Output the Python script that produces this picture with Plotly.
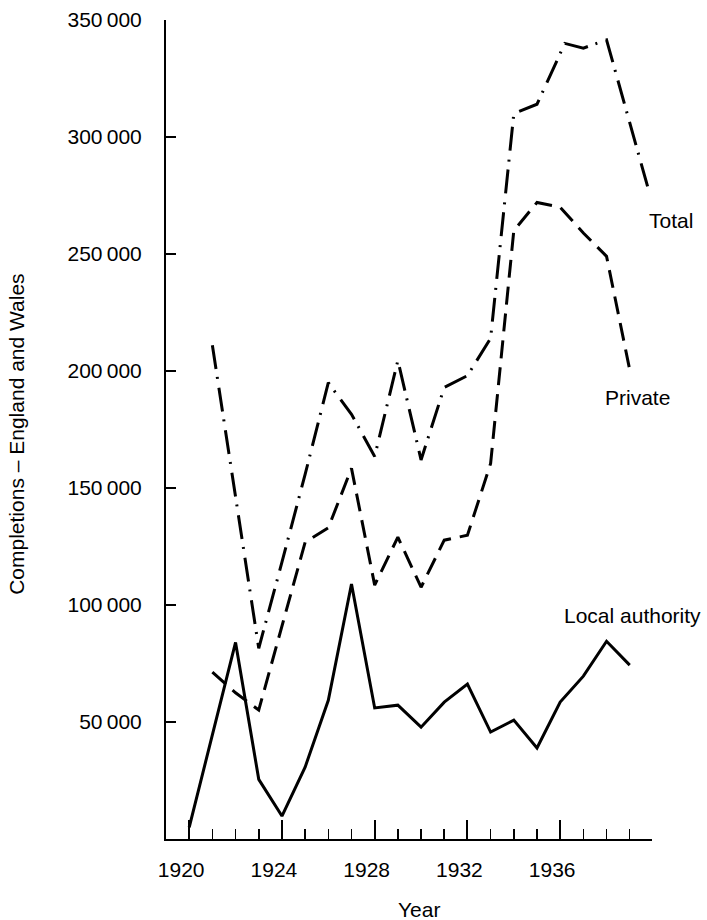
import plotly.graph_objects as go

# ---- data ----
years = list(range(1920, 1940))
local_authority = [5000, 45000, 84000, 25500, 9800, 30700, 59300, 109000, 56000, 57200,
                   47800, 58500, 66200, 45700, 50800, 38900, 58500, 69600, 84500, 74300]

private_years = list(range(1921, 1940))
private = [71300, 62500, 55100, 91000, 126800, 133000, 158400, 108500, 129000, 107600,
           127700, 129800, 160500, 260000, 272000, 270000, 259000, 249000, 200500]

total_years = [1921, 1922, 1923, 1924, 1925, 1926, 1927, 1928, 1929, 1930, 1931, 1932,
               1933, 1934, 1935, 1936.2, 1937, 1938, 1939.85]
total = [211000, 147000, 81500, 118300, 155800, 195000, 181500, 163500, 204500, 162000,
         193000, 198000, 214000, 310000, 314000, 340000, 338000, 341500, 276000]

y_tickvals = [50000, 100000, 150000, 200000, 250000, 300000, 350000]
y_ticktext = ["50\u2009000", "100\u2009000", "150\u2009000", "200\u2009000",
              "250\u2009000", "300\u2009000", "350\u2009000"]
x_tickvals = [1920, 1924, 1928, 1932, 1936]
x_ticktext = ["1920", "1924", "1928", "1932", "1936"]

series_labels = ["Total", "Private", "Local authority"]
label_x_paper = [1.039, 0.97, 0.959]
label_y = [264500, 188500, 95700]

FONT = "Liberation Sans, Arial, Helvetica, sans-serif"
FS = 21

fig = go.Figure()
fig.add_trace(go.Scatter(x=years, y=local_authority, mode="lines",
                         line=dict(color="black", width=3), name="Local authority"))
fig.add_trace(go.Scatter(x=private_years, y=private, mode="lines",
                         line=dict(color="black", width=3, dash="18px,9px"), name="Private"))
fig.add_trace(go.Scatter(x=total_years, y=total, mode="lines",
                         line=dict(color="black", width=3, dash="24px,8px,2px,9px"), name="Total"))

for t, lx, ly in zip(series_labels, label_x_paper, label_y):
    fig.add_annotation(xref="paper", yref="y", x=lx, y=ly, text=t, showarrow=False,
                       xanchor="center", yanchor="middle",
                       font=dict(family=FONT, size=FS, color="black"))

fig.add_annotation(xref="paper", yref="paper", x=0.52, y=-0.0855, text="Year", showarrow=False,
                   xanchor="center", yanchor="middle", font=dict(family=FONT, size=FS, color="black"))
fig.add_annotation(xref="paper", yref="paper", x=-0.309, y=0.4945,
                   text="Completions \u2013 England and Wales", showarrow=False, textangle=-90,
                   xanchor="center", yanchor="middle", font=dict(family=FONT, size=FS, color="black"))

fig.update_layout(
    width=707, height=920,
    margin=dict(l=166, r=55, t=20, b=81, autoexpand=False),
    paper_bgcolor="white", plot_bgcolor="white",
    showlegend=False,
    font=dict(family=FONT, size=FS, color="black"),
)
fig.update_xaxes(
    range=[1919, 1939.96], showgrid=False, zeroline=False,
    showline=True, linecolor="black", linewidth=2,
    tickmode="array", tickvals=x_tickvals, ticktext=x_ticktext,
    ticks="inside", ticklen=19, tickwidth=2, tickcolor="black",
    ticklabelstandoff=11, ticklabelshift=-8,
    minor=dict(ticks="inside", ticklen=10, tickwidth=1.5, tickcolor="black", dtick=1, tick0=1920),
    tickfont=dict(family=FONT, size=FS, color="black"),
)
fig.update_yaxes(
    range=[0, 350000], showgrid=False, zeroline=False,
    showline=True, linecolor="black", linewidth=2,
    tickmode="array", tickvals=y_tickvals, ticktext=y_ticktext,
    ticks="inside", ticklen=10, tickwidth=1.5, tickcolor="black",
    ticklabelstandoff=18,
    tickfont=dict(family=FONT, size=FS, color="black"),
)

fig.write_html("out.html", config={"displayModeBar": False, "staticPlot": True},
               post_script="document.body.style.margin='0';document.body.style.padding='0';")
